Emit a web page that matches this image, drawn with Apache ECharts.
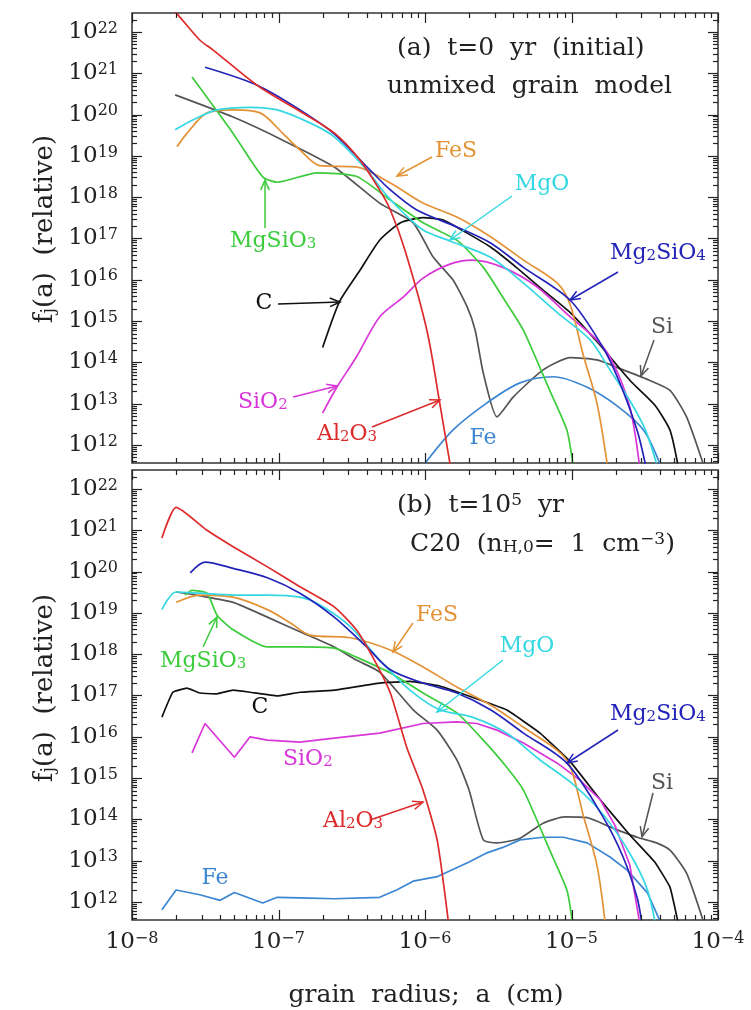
<!DOCTYPE html>
<html>
<head>
<meta charset="utf-8">
<script src="https://cdn.jsdelivr.net/npm/echarts@6/dist/echarts.min.js"></script>
<style>
html, body { margin: 0; padding: 0; background: #fff; }
#main { width: 751px; height: 1010px; }
</style>
</head>
<body>
<div id="main"></div>
<script>
// size distributions, pairs of [a (cm), f_j(a)]
// panel (a): t = 0 yr
var al2o3A = [[1.5e-8, 8e22], [2.0e-8, 2.9e22], [2.9e-8, 6.4e21], [3.6e-8, 3.6e21], [7.1e-8, 5.2e20], [1.26e-7, 1.5e20], [2.4e-7, 3.6e19], [3.6e-7, 7.9e18], [4.9e-7, 1.5e18], [5.8e-7, 4.9e17], [7.3e-7, 5.2e16], [1.03e-6, 6.0e14], [1.26e-6, 1.05e13], [1.48e-6, 3.6e11], [1.56e-6, 1.4e11]];
var mg2sio4A = [[3.15e-8, 1.4e21], [7.1e-8, 5.2e20], [1.4e-7, 1.3e20], [2.4e-7, 3.4e19], [4.2e-7, 4.6e18], [5.8e-7, 1.5e18], [8.8e-7, 4.9e17], [1.65e-6, 1.9e17], [2.8e-6, 7.8e16], [4.7e-6, 2.0e16], [9.8e-6, 3.2e15], [1.64e-5, 2.3e14], [2.1e-5, 3.7e13], [2.8e-5, 2.3e12], [3.2e-5, 3.3e11]];
var mgsio3A = [[2.57e-8, 8.1e20], [4.9e-8, 3.5e19], [7.8e-8, 3.1e18], [9.8e-8, 2.3e18], [1.83e-7, 3.9e18], [3.4e-7, 3.2e18], [5.8e-7, 8.5e17], [9.7e-7, 2.4e17], [1.65e-6, 9.1e16], [2.5e-6, 2.0e16], [3.5e-6, 3.2e15], [4.7e-6, 6.0e14], [7.1e-6, 2.1e13], [9.3e-6, 2.3e12], [1.02e-5, 3.6e11]];
var fesA = [[2.03e-8, 1.66e19], [2.37e-8, 3.5e19], [3.25e-8, 1.1e20], [4.9e-8, 1.3e20], [7.5e-8, 1.1e20], [1.07e-7, 3.5e19], [1.4e-7, 1.4e19], [1.92e-7, 5.8e18], [3.4e-7, 5.4e18], [5.8e-7, 2.2e18], [9.7e-7, 7.2e17], [1.65e-6, 3.3e17], [2.8e-6, 1.1e17], [4.7e-6, 3.0e16], [8.0e-6, 8.3e15], [9.8e-6, 2.5e15], [1.2e-5, 1.55e14], [1.49e-5, 1.05e13], [1.75e-5, 3.6e11]];
var mgoA = [[1.97e-8, 4.3e19], [2.6e-8, 7.4e19], [3.8e-8, 1.3e20], [6.4e-8, 1.5e20], [9.8e-8, 1.3e20], [1.64e-7, 6.3e19], [2.4e-7, 2.9e19], [4.0e-7, 4.6e18], [5.3e-7, 1.26e18], [6.8e-7, 4.9e17], [9.7e-7, 1.6e17], [1.48e-6, 8.7e16], [2.8e-6, 3.5e16], [4.7e-6, 8.3e15], [8.0e-6, 1.6e15], [1.34e-5, 3.5e14], [1.83e-5, 6.6e13], [2.5e-5, 1.2e13], [3.2e-5, 2.3e12], [3.8e-5, 3.6e11]];
var cA = [[2.0e-7, 2.3e14], [2.6e-7, 2.9e15], [3.6e-7, 1.7e16], [4.9e-7, 9.1e16], [6.8e-7, 2.4e17], [9.7e-7, 3.2e17], [1.33e-6, 2.8e17], [1.94e-6, 1.35e17], [2.8e-6, 6.2e16], [4.2e-6, 2.0e16], [6.4e-6, 5.6e15], [9.8e-6, 1.6e15], [1.57e-5, 2.6e14], [2.5e-5, 3.7e13], [3.7e-5, 9.3e12], [4.7e-5, 2.3e12], [5.3e-5, 3.6e11]];
var siA = [[1.97e-8, 3.0e20], [4.9e-8, 8.7e19], [1.07e-7, 2.4e19], [2.4e-7, 5.4e18], [4.9e-7, 7.2e17], [8.3e-7, 2.4e17], [1.14e-6, 3.5e16], [1.55e-6, 1.0e16], [1.94e-6, 2.2e15], [2.2e-6, 6.0e14], [2.5e-6, 5.5e13], [3.1e-6, 4.8e12], [4.0e-6, 1.45e13], [6.4e-6, 6.6e13], [9.8e-6, 1.3e14], [1.49e-5, 1.15e14], [2.25e-5, 6.6e13], [3.4e-5, 3.7e13], [4.7e-5, 2.1e13], [6.1e-5, 4.8e12], [7.9e-5, 3.6e11]];
var sio2A = [[2.0e-7, 5.9e12], [2.5e-7, 2.5e13], [3.4e-7, 1.35e14], [4.9e-7, 1.26e15], [7.1e-7, 3.8e15], [9.7e-7, 1.1e16], [1.48e-6, 2.4e16], [2.1e-6, 3.0e16], [3.4e-6, 2.0e16], [5.8e-6, 6.8e15], [9.8e-6, 1.26e15], [1.49e-5, 3.5e14], [1.92e-5, 9.8e13], [2.5e-5, 8.3e12], [2.9e-5, 3.6e11]];
var feA = [[1.0e-6, 3.6e11], [1.55e-6, 2.3e12], [2.65e-6, 1.05e13], [4.45e-6, 3.2e13], [7.5e-6, 4.5e13], [1.28e-5, 2.5e13], [2.1e-5, 8.3e12], [3.1e-5, 2.3e12], [4.0e-5, 3.6e11]];

// panel (b): t = 1e5 yr, C20
var al2o3B = [[1.6e-8, 6.5e20], [2.0e-8, 3.6e21], [3.25e-8, 1.0e21], [4.9e-8, 4.0e20], [8.4e-8, 1.3e20], [1.4e-7, 4.3e19], [2.4e-7, 1.4e19], [3.4e-7, 3.9e18], [4.4e-7, 8.5e17], [5.8e-7, 1.15e17], [7.5e-7, 5.6e15], [9.7e-7, 5.1e14], [1.21e-6, 3.2e13], [1.44e-6, 3.6e11]];
var mg2sio4B = [[2.5e-8, 9.3e19], [3.15e-8, 1.7e20], [4.9e-8, 1.2e20], [8.4e-8, 7.1e19], [1.4e-7, 3.0e19], [2.4e-7, 7.9e18], [4.0e-7, 1.5e18], [5.8e-7, 4.2e17], [9.7e-7, 2.0e17], [1.65e-6, 1.15e17], [2.8e-6, 4.5e16], [4.7e-6, 1.23e16], [9.3e-6, 2.3e15], [1.64e-5, 1.15e14], [2.25e-5, 1.23e13], [2.8e-5, 1.3e12], [3.0e-5, 3.6e11]];
var mgsio3B = [[2.3e-8, 2.7e19], [2.57e-8, 3.5e19], [3.25e-8, 3.0e19], [3.8e-8, 8.9e18], [4.9e-8, 3.9e18], [8.4e-8, 1.5e18], [1.4e-7, 1.5e18], [2.4e-7, 1.4e18], [3.4e-7, 8.5e17], [5.8e-7, 3.5e17], [9.7e-7, 1.15e17], [1.65e-6, 3.8e16], [2.5e-6, 8.3e15], [3.6e-6, 1.86e15], [4.7e-6, 5.1e14], [7.1e-6, 1.8e13], [9.3e-6, 1.95e12], [1.01e-5, 3.6e11]];
var fesB = [[2.0e-8, 1.8e19], [2.9e-8, 2.7e19], [4.9e-8, 2.4e19], [8.4e-8, 1.2e19], [1.2e-7, 5.8e18], [1.64e-7, 2.9e18], [3.1e-7, 2.5e18], [5.8e-7, 1.26e18], [9.7e-7, 4.9e17], [1.65e-6, 1.6e17], [2.8e-6, 5.9e16], [4.7e-6, 1.7e16], [8.0e-6, 4.7e15], [9.8e-6, 1.95e15], [1.2e-5, 1.3e14], [1.49e-5, 7.9e12], [1.69e-5, 3.6e11]];
var mgoB = [[1.6e-8, 1.2e19], [2.0e-8, 3.2e19], [2.9e-8, 3.0e19], [4.9e-8, 2.7e19], [8.4e-8, 2.7e19], [1.4e-7, 2.4e19], [1.92e-7, 1.55e19], [3.1e-7, 4.6e18], [4.9e-7, 7.2e17], [7.9e-7, 1.35e17], [1.26e-6, 4.5e16], [2.1e-6, 3.0e16], [3.6e-6, 1.23e16], [6.1e-6, 2.75e15], [9.8e-6, 8.1e14], [1.45e-5, 2.2e14], [1.98e-5, 5.5e13], [2.7e-5, 9.3e12], [3.3e-5, 1.95e12], [3.7e-5, 3.6e11]];
var cB = [[1.6e-8, 3.0e16], [1.9e-8, 1.2e17], [2.37e-8, 1.5e17], [2.9e-8, 1.15e17], [3.8e-8, 1.1e17], [4.9e-8, 1.35e17], [6.4e-8, 1.2e17], [9.8e-8, 9.8e16], [1.4e-7, 1.2e17], [2.4e-7, 1.35e17], [4.9e-7, 2.0e17], [7.9e-7, 2.2e17], [1.26e-6, 1.7e17], [2.1e-6, 9.1e16], [3.6e-6, 4.5e16], [6.1e-6, 1.23e16], [9.8e-6, 2.5e15], [1.57e-5, 3.0e14], [2.5e-5, 4.2e13], [3.7e-5, 9.3e12], [4.7e-5, 2.3e12], [5.3e-5, 3.6e11]];
var siB = [[2.0e-8, 3.2e19], [2.9e-8, 2.6e19], [4.9e-8, 1.8e19], [8.4e-8, 7.9e18], [1.4e-7, 3.5e18], [2.4e-7, 1.5e18], [3.4e-7, 7.2e17], [4.9e-7, 3.7e17], [8.3e-7, 4.5e16], [1.21e-6, 1.45e16], [1.65e-6, 2.75e15], [2.0e-6, 5.1e14], [2.5e-6, 3.2e13], [3.1e-6, 2.7e13], [4.45e-6, 3.5e13], [6.4e-6, 8.1e13], [9.0e-6, 1.15e14], [1.28e-5, 1.1e14], [1.83e-5, 6.6e13], [2.8e-5, 3.7e13], [3.8e-5, 2.7e13], [4.7e-5, 1.8e13], [6.1e-5, 5.0e12], [7.9e-5, 3.6e11]];
var sio2B = [[2.57e-8, 4.1e15], [3.15e-8, 2.1e16], [5.0e-8, 3.2e15], [6.4e-8, 1.0e16], [8.4e-8, 8.3e15], [1.4e-7, 7.4e15], [2.4e-7, 9.3e15], [4.9e-7, 1.23e16], [9.7e-7, 2.1e16], [1.65e-6, 2.3e16], [2.26e-6, 2.1e16], [3.1e-6, 1.45e16], [4.7e-6, 7.1e15], [8.0e-6, 2.3e15], [1.14e-5, 8.9e14], [1.57e-5, 3.0e14], [1.98e-5, 7.2e13], [2.5e-5, 7.9e12], [2.9e-5, 3.6e11]];
var feB = [[1.6e-8, 6.5e11], [2.0e-8, 1.95e12], [2.9e-8, 1.5e12], [4.0e-8, 1.1e12], [5.0e-8, 1.7e12], [7.8e-8, 9.5e11], [9.8e-8, 1.3e12], [1.4e-7, 1.26e12], [2.4e-7, 1.2e12], [4.9e-7, 1.3e12], [6.4e-7, 1.95e12], [8.3e-7, 3.2e12], [1.21e-6, 4.1e12], [2.0e-6, 9.3e12], [2.65e-6, 1.55e13], [3.4e-6, 2.1e13], [4.45e-6, 3.2e13], [6.4e-6, 3.7e13], [8.8e-6, 3.7e13], [1.28e-5, 2.7e13], [1.83e-5, 1.23e13], [2.4e-5, 5.9e12], [3.3e-5, 1.66e12], [4.0e-5, 3.6e11]];

// axis ranges and tick values
var xMajor = [1e-8, 1e-7, 1e-6, 1e-5, 1e-4];
var yMajor = [1e12, 1e13, 1e14, 1e15, 1e16, 1e17, 1e18, 1e19, 1e20, 1e21, 1e22];
var XMIN = 1e-8, XMAX = 1e-4, YMIN = 3.67e11, YMAX = 2.88e22;

var xMinor = [], yMinor = [];
xMajor.slice(0, -1).forEach(function (d) { for (var k = 2; k < 10; k++) xMinor.push(k * d); });
[1e11].concat(yMajor).forEach(function (d) {
    for (var k = 2; k < 10; k++) if (k * d > YMIN && k * d < YMAX) yMinor.push(k * d);
});

var FONT = 'DejaVu Serif';
var INK = '#222';
var colors = {
    al2o3: '#dd2a2a', mg2sio4: '#2323b8', mgsio3: '#3ccc3c', fes: '#e39236',
    mgo: '#35d8e2', c: '#111111', sio2: '#d936d9', fe: '#3b86d2', si: '#555555'
};
var gridRects = [
    { left: 132, top: 13, width: 586, height: 450 },
    { left: 132, top: 470, width: 586, height: 450 }
];

function powLabel(v) {
    var e = Math.round(Math.log(v) / Math.LN10);
    return '{b|10}{s|' + String(e).replace('-', '\u2212') + '}';
}
var powRich = {
    b: { fontFamily: FONT, fontSize: 23, lineHeight: 23, padding: [5, 0, 5, 0], color: INK },
    s: { fontFamily: FONT, fontSize: 16, lineHeight: 16, verticalAlign: 'top', color: INK }
};

function xAxis(g, labels) {
    return {
        type: 'log', gridIndex: g, min: XMIN, max: XMAX, position: 'bottom',
        splitLine: { show: false }, axisLine: { show: false }, axisTick: { show: false },
        axisLabel: { show: labels, customValues: xMajor, formatter: powLabel, rich: powRich, margin: 11 }
    };
}
function yAxis(g) {
    return {
        type: 'log', gridIndex: g, min: YMIN, max: YMAX, position: 'left',
        splitLine: { show: false }, axisLine: { show: false }, axisTick: { show: false },
        axisLabel: { customValues: yMajor, formatter: powLabel, rich: powRich, margin: 14 }
    };
}

function curve(data, color, panel, smooth) {
    return {
        type: 'line', data: data, xAxisIndex: panel, yAxisIndex: panel,
        symbol: 'none', showSymbol: false, smooth: smooth, silent: true,
        lineStyle: { color: color, width: 1.7 }
    };
}

// annotations (pixel layout)
function richFor(size) {
    var p = Math.round(size * 0.32), s = Math.round(size * 0.68);
    return {
        m: { fontFamily: FONT, fontSize: size, lineHeight: size, padding: [p, 0, p, 0] },
        d: { fontFamily: FONT, fontSize: s, lineHeight: s, verticalAlign: 'bottom' },
        u: { fontFamily: FONT, fontSize: s, lineHeight: s, verticalAlign: 'top' }
    };
}
function txt(x, y, s, color, size, align, rot) {
    return {
        type: 'text', x: x, y: y, rotation: rot || 0, z: 100,
        style: { text: s, rich: richFor(size), fill: color, align: align || 'center', verticalAlign: 'middle', fontFamily: FONT, fontSize: size }
    };
}
function seg(x1, y1, x2, y2, color, w) {
    return { type: 'line', z: 100, shape: { x1: x1, y1: y1, x2: x2, y2: y2 }, style: { stroke: color, lineWidth: w || 1.5 } };
}
function arrow(x1, y1, x2, y2, color) {
    var ang = Math.atan2(y2 - y1, x2 - x1), L = 11, w = 0.4;
    var p1 = [x2 - L * Math.cos(ang - w), y2 - L * Math.sin(ang - w)];
    var p2 = [x2 - L * Math.cos(ang + w), y2 - L * Math.sin(ang + w)];
    return [
        seg(x1, y1, x2, y2, color),
        { type: 'polyline', z: 100, shape: { points: [p1, [x2, y2], p2] }, style: { stroke: color, lineWidth: 1.5, fill: null } }
    ];
}

var graphics = [
    txt(397, 48, '{m|(a)  t=0  yr  (initial)}', INK, 25, 'left'),
    txt(387, 86, '{m|unmixed  grain  model}', INK, 25, 'left'),
    txt(397, 505, '{m|(b)  t=10}{u|5}{m|  yr}', INK, 25, 'left'),
    txt(410, 544, '{m|C20  (n}{d|H,0}{m|=  1  cm}{u|\u22123}{m|)}', INK, 25, 'left'),
    txt(45, 229, '{m|f}{d|j}{m|(a)  (relative)}', INK, 26, 'center', Math.PI / 2),
    txt(45, 688, '{m|f}{d|j}{m|(a)  (relative)}', INK, 26, 'center', Math.PI / 2),
    txt(426, 995, '{m|grain  radius;  a  (cm)}', INK, 25, 'center'),

    txt(456, 151, '{m|FeS}', colors.fes, 22),
    txt(542, 184, '{m|MgO}', colors.mgo, 22),
    txt(230, 241, '{m|MgSiO}{d|3}', colors.mgsio3, 22, 'left'),
    txt(264, 303, '{m|C}', colors.c, 22),
    txt(238, 402, '{m|SiO}{d|2}', colors.sio2, 22, 'left'),
    txt(317, 434, '{m|Al}{d|2}{m|O}{d|3}', colors.al2o3, 22, 'left'),
    txt(483, 438, '{m|Fe}', colors.fe, 22),
    txt(610, 253, '{m|Mg}{d|2}{m|SiO}{d|4}', colors.mg2sio4, 22, 'left'),
    txt(662, 327, '{m|Si}', colors.si, 22),

    txt(437, 615, '{m|FeS}', colors.fes, 22),
    txt(527, 646, '{m|MgO}', colors.mgo, 22),
    txt(160, 661, '{m|MgSiO}{d|3}', colors.mgsio3, 22, 'left'),
    txt(260, 707, '{m|C}', colors.c, 22),
    txt(283, 759, '{m|SiO}{d|2}', colors.sio2, 22, 'left'),
    txt(323, 821, '{m|Al}{d|2}{m|O}{d|3}', colors.al2o3, 22, 'left'),
    txt(215, 878, '{m|Fe}', colors.fe, 22),
    txt(610, 714, '{m|Mg}{d|2}{m|SiO}{d|4}', colors.mg2sio4, 22, 'left'),
    txt(662, 783, '{m|Si}', colors.si, 22)
].concat(
    arrow(432, 157, 397, 176, colors.fes),
    arrow(512, 196, 450, 240, colors.mgo),
    arrow(265, 228, 265, 180, colors.mgsio3),
    arrow(278, 304, 340, 302, colors.c),
    arrow(293, 397, 337, 386, colors.sio2),
    arrow(372, 427, 440, 400, colors.al2o3),
    arrow(618, 272, 570, 300, colors.mg2sio4),
    arrow(654, 340, 641, 376, colors.si),

    arrow(413, 623, 393, 652, colors.fes),
    arrow(503, 660, 437, 712, colors.mgo),
    arrow(203, 647, 217, 617, colors.mgsio3),
    arrow(370, 820, 423, 802, colors.al2o3),
    arrow(618, 730, 567, 763, colors.mg2sio4),
    arrow(653, 793, 642, 837, colors.si)
);

var myChart = echarts.init(document.getElementById('main'));
var option = {
    animation: false,
    backgroundColor: '#fff',
    grid: gridRects.map(function (r) {
        return { left: r.left, top: r.top, width: r.width, height: r.height, show: true, borderColor: '#333', borderWidth: 1.5 };
    }),
    xAxis: [xAxis(0, false), xAxis(1, true)],
    yAxis: [yAxis(0), yAxis(1)],
    series: [
        curve(siA, colors.si, 0, 0.2),
        curve(cA, colors.c, 0, 0.2),
        curve(feA, colors.fe, 0, 0.3),
        curve(sio2A, colors.sio2, 0, 0.3),
        curve(mgsio3A, colors.mgsio3, 0, 0.2),
        curve(fesA, colors.fes, 0, 0.3),
        curve(mgoA, colors.mgo, 0, 0.3),
        curve(mg2sio4A, colors.mg2sio4, 0, 0.3),
        curve(al2o3A, colors.al2o3, 0, 0.3),

        curve(siB, colors.si, 1, 0.2),
        curve(cB, colors.c, 1, 0.1),
        curve(feB, colors.fe, 1, 0),
        curve(sio2B, colors.sio2, 1, 0),
        curve(mgsio3B, colors.mgsio3, 1, 0.2),
        curve(fesB, colors.fes, 1, 0.3),
        curve(mgoB, colors.mgo, 1, 0.3),
        curve(mg2sio4B, colors.mg2sio4, 1, 0.3),
        curve(al2o3B, colors.al2o3, 1, 0.2)
    ]
};
myChart.setOption(option);

// tick marks on the four frame sides. The axis is asked for pixels first; its answer is
// used only if two decades land where a log axis over this grid must put them.
function lg(v) { return Math.log(v) / Math.LN10; }
function ask(dim, g, v) {
    var f = {};
    f[dim === 'x' ? 'xAxisIndex' : 'yAxisIndex'] = g;
    try { return myChart.convertToPixel(f, v); } catch (e) { return NaN; }
}
function makeMapper(dim, g) {
    var r = gridRects[g];
    var manual = dim === 'x'
        ? function (v) { return r.left + r.width * (lg(v) - lg(XMIN)) / (lg(XMAX) - lg(XMIN)); }
        : function (v) { return r.top + r.height * (lg(YMAX) - lg(v)) / (lg(YMAX) - lg(YMIN)); };
    var a = dim === 'x' ? 1e-7 : 1e14, b = dim === 'x' ? 1e-5 : 1e20;
    var pa = ask(dim, g, a), pb = ask(dim, g, b);
    var ok = typeof pa === 'number' && typeof pb === 'number' && isFinite(pa) && isFinite(pb) &&
        Math.abs(pa - manual(a)) < 2 && Math.abs(pb - manual(b)) < 2;
    return function (v) { return Math.round(ok ? ask(dim, g, v) : manual(v)) + 0.5; };
}
var ticks = [];
gridRects.forEach(function (r, g) {
    var yb = r.top + r.height, yt = r.top, xl = r.left, xr = r.left + r.width;
    var mx = makeMapper('x', g), my = makeMapper('y', g);
    xMajor.concat(xMinor).forEach(function (v, i) {
        var len = i < xMajor.length ? 10 : 5, x = mx(v);
        ticks.push(seg(x, yb, x, yb - len, INK, 1.2), seg(x, yt, x, yt + len, INK, 1.2));
    });
    yMajor.concat(yMinor).forEach(function (v, i) {
        var len = i < yMajor.length ? 10 : 5, y = my(v);
        ticks.push(seg(xl, y, xl + len, y, INK, 1.2), seg(xr, y, xr - len, y, INK, 1.2));
    });
});

myChart.setOption({ graphic: graphics.concat(ticks) });
window.onresize = myChart.resize;
</script>
</body>
</html>
